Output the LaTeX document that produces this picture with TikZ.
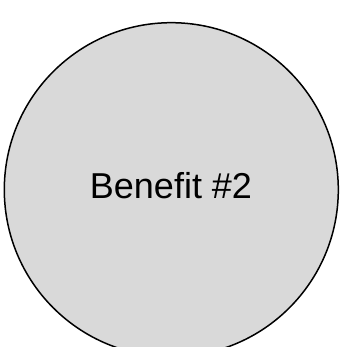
\documentclass[tikz,border=0pt]{standalone}
\usepackage{fontspec}
\setmainfont{Liberation Sans}
\definecolor{circfill}{HTML}{D9D9D9}
\begin{document}
\begin{tikzpicture}[x=1pt,y=1pt,
  bubble/.style={draw=black,line width=1.5pt,fill=circfill}]
\useasboundingbox (0,0) rectangle (342,347);
\begin{scope}
\clip (0,0) rectangle (342,347);
\path[bubble] (171.3,157.3) circle[radius=167];
\end{scope}
\node[anchor=base,inner sep=0pt,font=\fontsize{36}{40}\selectfont] (label) at (171,148) {Benefit \#2};
\end{tikzpicture}
\end{document}
